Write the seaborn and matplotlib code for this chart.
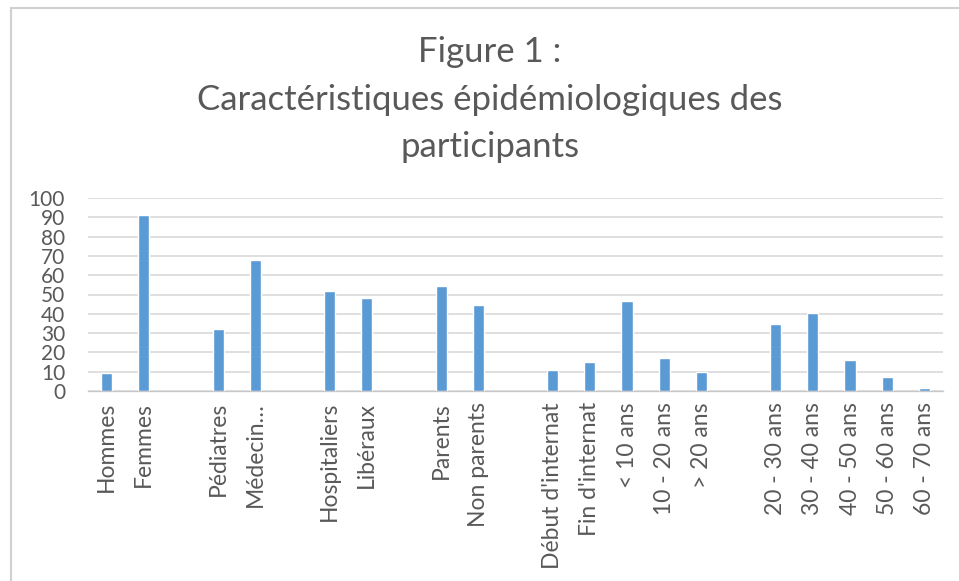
# données de la figure 1
import pandas as pd
import numpy as np

import matplotlib
matplotlib.use('Agg')
import matplotlib.pyplot as plt
import seaborn as sns
from matplotlib.patches import Rectangle

categories = ['Hommes', 'Femmes', 'Pédiatres', 'Médecin…', 'Hospitaliers', 'Libéraux',
              'Parents', 'Non parents', "Début d'internat", "Fin d'internat",
              '< 10 ans', '10 - 20 ans', '> 20 ans',
              '20 - 30 ans', '30 - 40 ans', '40 - 50 ans', '50 - 60 ans', '60 - 70 ans']
valeurs = [9.3, 91, 32, 68, 52, 48, 54.5, 44.5, 11, 15, 46.5, 17, 9.8, 34.5, 40.5, 16, 7, 1.5]

# ordre des catégories avec des emplacements vides entre les groupes
ordre = ['Hommes', 'Femmes', 'vide1', 'Pédiatres', 'Médecin…', 'vide2',
         'Hospitaliers', 'Libéraux', 'vide3', 'Parents', 'Non parents', 'vide4',
         "Début d'internat", "Fin d'internat", '< 10 ans', '10 - 20 ans', '> 20 ans', 'vide5',
         '20 - 30 ans', '30 - 40 ans', '40 - 50 ans', '50 - 60 ans', '60 - 70 ans']

titre = ['Figure 1 :', 'Caractéristiques épidémiologiques des', 'participants']

df = pd.DataFrame({'categorie': categories, 'valeur': valeurs})

sns.set_style('white')
plt.rcParams['font.family'] = ['Lato', 'DejaVu Sans']

gris = '#595959'
fig = plt.figure(figsize=(9.59, 5.81), dpi=100)
ax = fig.add_axes([88/959, 1-391/581, (943-88)/959, (391-198)/581])

sns.barplot(data=df, x='categorie', y='valeur', order=ordre, color='#5B9BD5',
            width=0.3, saturation=1, ax=ax)

ax.set_ylim(0, 100)
ax.set_yticks(np.arange(0, 101, 10))
ax.yaxis.grid(True, color='#d9d9d9', linewidth=1.2)
ax.set_axisbelow(True)
for s in ['top', 'right', 'left']:
    ax.spines[s].set_visible(False)
ax.spines['bottom'].set_color('#c8c8c8')
ax.spines['bottom'].set_linewidth(1.0)
ax.spines['bottom'].set_zorder(0.5)

labels = [c if not c.startswith('vide') else '' for c in ordre]
ax.set_xticks(range(len(ordre)))
ax.set_xticklabels(labels, rotation=90, fontsize=16.5, color=gris)
ax.tick_params(axis='y', labelsize=15, colors=gris, length=0, pad=16.5)
ax.tick_params(axis='x', length=0, pad=8)
for t in ax.get_yticklabels():
    t.set_color(gris)
ax.set_xlabel('')
ax.set_ylabel('')

# titre sur trois lignes
for txt, y in zip(titre, [52, 100, 147]):
    fig.text(490/959, 1-y/581, txt, ha='center', va='center', fontsize=25, color=gris)

# cadre du graphique
fig.patches.append(Rectangle((11/959, -0.05), 1.0, 1.05 - 8/581, transform=fig.transFigure,
                             fill=False, edgecolor='#d0d0d0', linewidth=1.5))

fig.savefig('out.png', dpi=100)
